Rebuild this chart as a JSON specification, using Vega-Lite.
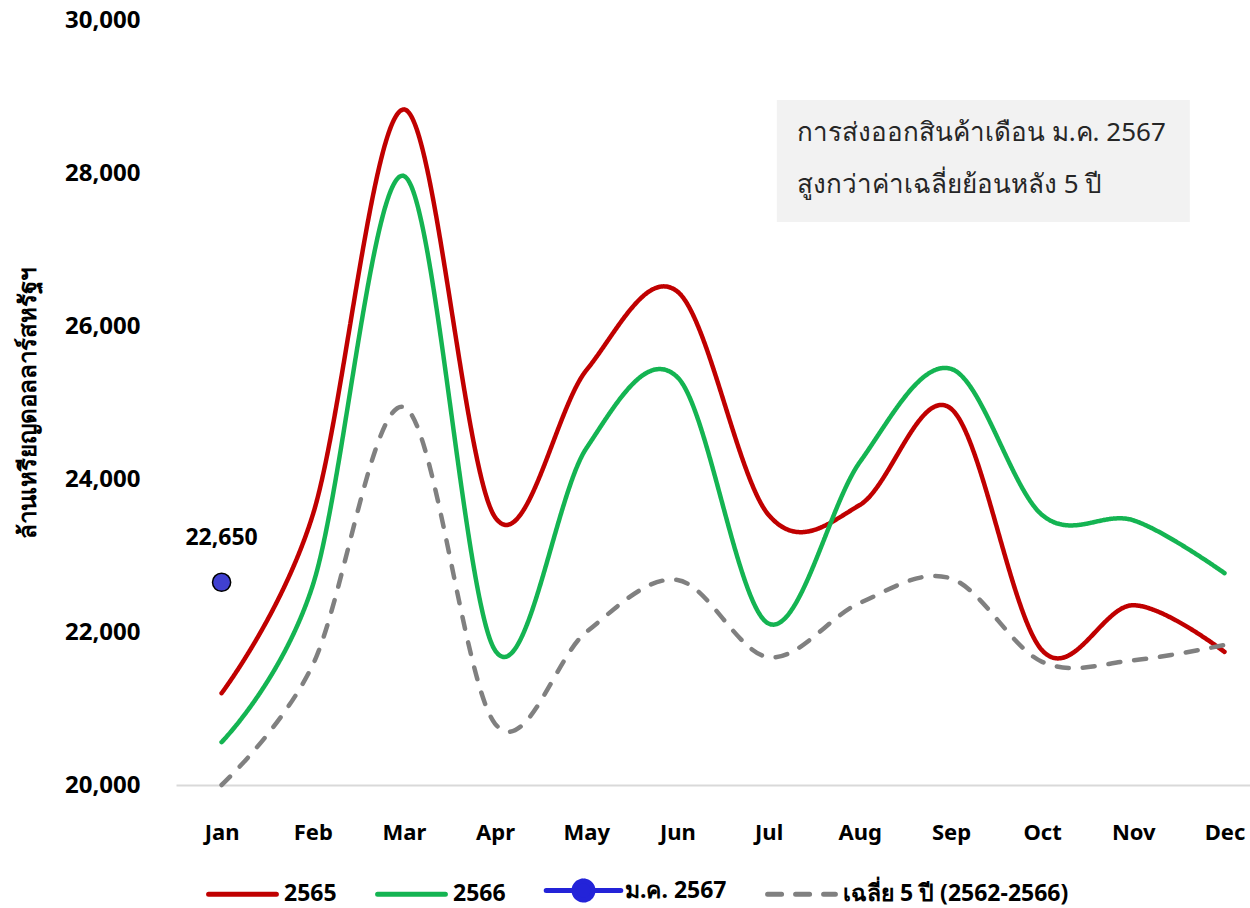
{
  "$schema": "https://vega.github.io/schema/vega-lite/v6.json",
  "autosize": {"type": "none"},
  "width": 1074,
  "height": 765,
  "padding": {"left": 176, "top": 20, "right": 0, "bottom": 123},
  "background": "white",
  "config": {
    "view": {"stroke": null},
    "font": "Noto Sans",
    "text": {"font": "Noto Sans"}
  },
  "datasets": {
    "lines": [
      {"m": 1, "s": "2565", "v": 21200},
      {"m": 2, "s": "2565", "v": 23530},
      {"m": 3, "s": "2565", "v": 28830},
      {"m": 4, "s": "2565", "v": 23500},
      {"m": 5, "s": "2565", "v": 25420},
      {"m": 6, "s": "2565", "v": 26450},
      {"m": 7, "s": "2565", "v": 23530},
      {"m": 8, "s": "2565", "v": 23660},
      {"m": 9, "s": "2565", "v": 24920},
      {"m": 10, "s": "2565", "v": 21760},
      {"m": 11, "s": "2565", "v": 22350},
      {"m": 12, "s": "2565", "v": 21740},
      {"m": 1, "s": "2566", "v": 20560},
      {"m": 2, "s": "2566", "v": 22610},
      {"m": 3, "s": "2566", "v": 27960},
      {"m": 4, "s": "2566", "v": 21760},
      {"m": 5, "s": "2566", "v": 24400},
      {"m": 6, "s": "2566", "v": 25330},
      {"m": 7, "s": "2566", "v": 22110},
      {"m": 8, "s": "2566", "v": 24220},
      {"m": 9, "s": "2566", "v": 25440},
      {"m": 10, "s": "2566", "v": 23530},
      {"m": 11, "s": "2566", "v": 23460},
      {"m": 12, "s": "2566", "v": 22770},
      {"m": 1, "s": "เฉลี่ย 5 ปี (2562-2566)", "v": 20000},
      {"m": 2, "s": "เฉลี่ย 5 ปี (2562-2566)", "v": 21570},
      {"m": 3, "s": "เฉลี่ย 5 ปี (2562-2566)", "v": 24940},
      {"m": 4, "s": "เฉลี่ย 5 ปี (2562-2566)", "v": 20800},
      {"m": 5, "s": "เฉลี่ย 5 ปี (2562-2566)", "v": 22000},
      {"m": 6, "s": "เฉลี่ย 5 ปี (2562-2566)", "v": 22680},
      {"m": 7, "s": "เฉลี่ย 5 ปี (2562-2566)", "v": 21670},
      {"m": 8, "s": "เฉลี่ย 5 ปี (2562-2566)", "v": 22380},
      {"m": 9, "s": "เฉลี่ย 5 ปี (2562-2566)", "v": 22700},
      {"m": 10, "s": "เฉลี่ย 5 ปี (2562-2566)", "v": 21610},
      {"m": 11, "s": "เฉลี่ย 5 ปี (2562-2566)", "v": 21630},
      {"m": 12, "s": "เฉลี่ย 5 ปี (2562-2566)", "v": 21830}
    ],
    "point": [
      {"m": 1, "s": "ม.ค. 2567", "v": 22650}
    ],
    "note": [
      {"label": ["การส่งออกสินค้าเดือน ม.ค. 2567", "สูงกว่าค่าเฉลี่ยย้อนหลัง 5 ปี"]}
    ]
  },
  "layer": [
    {
      "data": {"name": "note"},
      "mark": {"type": "rect", "fill": "#f2f2f2"},
      "encoding": {
        "x": {"datum": 7.09, "type": "quantitative"},
        "x2": {"datum": 11.62},
        "y": {"datum": 28954, "type": "quantitative"},
        "y2": {"datum": 27359}
      }
    },
    {
      "data": {"name": "note"},
      "mark": {"type": "text", "align": "left", "baseline": "middle", "fontSize": 26, "lineHeight": 52, "color": "#262626"},
      "encoding": {
        "x": {"datum": 7.31, "type": "quantitative"},
        "y": {"datum": 28523, "type": "quantitative"},
        "text": {"field": "label"}
      }
    },
    {
      "data": {"name": "lines"},
      "mark": {"type": "line", "interpolate": "cardinal", "strokeWidth": 4.5, "strokeCap": "round"},
      "encoding": {
        "x": {
          "field": "m", "type": "quantitative",
          "scale": {"domain": [0.5, 12.28], "nice": false, "zero": false},
          "axis": {
            "values": [1, 2, 3, 4, 5, 6, 7, 8, 9, 10, 11, 12],
            "labelExpr": "['Jan','Feb','Mar','Apr','May','Jun','Jul','Aug','Sep','Oct','Nov','Dec'][datum.value - 1]",
            "title": null, "grid": false, "ticks": false,
            "domainColor": "#d9d9d9", "domainWidth": 2,
            "labelFontSize": 22, "labelFontWeight": "bold", "labelColor": "#000000",
            "labelPadding": 47, "labelBaseline": "middle", "labelFlush": false
          }
        },
        "y": {
          "field": "v", "type": "quantitative",
          "scale": {"domain": [20000, 30000], "nice": false, "zero": false},
          "axis": {
            "values": [20000, 22000, 24000, 26000, 28000, 30000],
            "labelExpr": "format(datum.value, ',')",
            "grid": false, "ticks": false, "domain": false,
            "labelFontSize": 24, "labelFontWeight": "bold", "labelColor": "#000000",
            "labelPadding": 36, "labelFlush": false,
            "title": "ล้านเหรียญดอลลาร์สหรัฐฯ", "titleFontSize": 24, "titleFontWeight": "bold",
            "titleColor": "#000000", "titlePadding": 24
          }
        },
        "color": {
          "field": "s", "type": "nominal",
          "scale": {
            "domain": ["2565", "2566", "ม.ค. 2567", "เฉลี่ย 5 ปี (2562-2566)"],
            "range": ["#c00000", "#14b452", "#2323d8", "#808080"]
          },
          "legend": {
            "title": null, "orient": "none", "legendX": 30, "legendY": 834,
            "direction": "horizontal",
            "symbolType": "stroke", "symbolSize": 4600, "symbolStrokeWidth": 5,
            "labelFontSize": 23, "labelFontWeight": "bold", "labelColor": "#000000",
            "labelLimit": 0,
            "labelOffset": 5, "columnPadding": 30, "symbolOffset": 0,
            "encode": {
              "symbols": {
                "update": {
                  "strokeDash": {"signal": "datum.value === 'เฉลี่ย 5 ปี (2562-2566)' ? [14, 14] : [1, 0]"},
                  "strokeCap": {"value": "round"},
                  "shape": {"signal": "datum.value === 'ม.ค. 2567' ? 'M -1.1 0 L -0.28 0 A 0.28 0.28 0 1 1 0.28 0 A 0.28 0.28 0 1 1 -0.28 0 M 0.28 0 L 1.1 0' : 'stroke'"},
                  "fill": {"signal": "datum.value === 'ม.ค. 2567' ? '#3d3dd0' : 'transparent'"}
                }
              }
            }
          }
        },
        "strokeDash": {
          "field": "s", "type": "nominal",
          "scale": {
            "domain": ["2565", "2566", "เฉลี่ย 5 ปี (2562-2566)"],
            "range": [[1, 0], [1, 0], [12, 14]]
          },
          "legend": null
        }
      }
    },
    {
      "data": {"name": "point"},
      "mark": {"type": "point", "filled": true, "size": 330, "fill": "#4040d0", "stroke": "#000000", "strokeWidth": 1.5, "opacity": 1},
      "encoding": {
        "x": {"field": "m", "type": "quantitative"},
        "y": {"field": "v", "type": "quantitative"},
        "color": {"field": "s", "type": "nominal"}
      }
    },
    {
      "data": {"name": "point"},
      "mark": {"type": "text", "dy": -44, "fontSize": 23, "fontWeight": "bold", "color": "#000000"},
      "encoding": {
        "x": {"field": "m", "type": "quantitative"},
        "y": {"field": "v", "type": "quantitative"},
        "text": {"field": "v", "type": "quantitative", "format": ","}
      }
    }
  ]
}
